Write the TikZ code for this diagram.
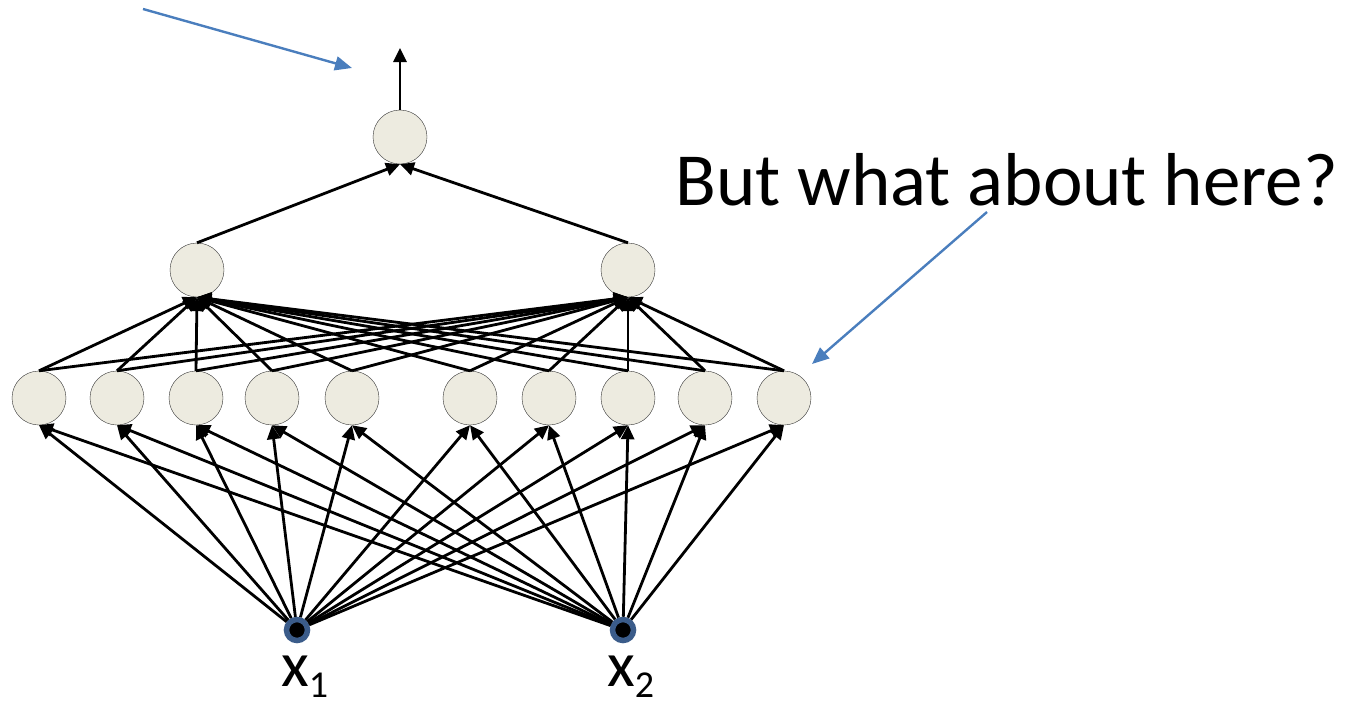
\documentclass[tikz,border=0pt]{standalone}
\usepackage{fontspec}
\setmainfont{Carlito}
\usetikzlibrary{arrows.meta}
\definecolor{cellfill}{RGB}{237,235,224}
\definecolor{ringblue}{RGB}{59,92,138}
\definecolor{noteblue}{RGB}{74,126,189}
\tikzset{
  unit/.style={circle,draw=black!80,thin,fill=cellfill,minimum size=54pt,inner sep=0pt},
  inputdot/.style={circle,fill=black,draw=ringblue,line width=5.5pt,minimum size=21pt,inner sep=0pt},
  wire/.style={line width=2.8pt,-{Triangle[length=14pt,width=13pt]}},
  note/.style={noteblue,line width=2.4pt,-{Triangle[length=17pt,width=14pt]}},
}
\newcommand{\xsub}[1]{x\raisebox{-11pt}{\fontsize{38}{38}\selectfont #1}}

\begin{document}
\begin{tikzpicture}[x=1pt,y=-1pt]
\useasboundingbox (0,0) rectangle (1355,704);
% units
\node[unit] (o) at (400,137) {};
\node[unit] (m1) at (197,270) {};
\node[unit] (m2) at (628,270) {};
\foreach \x [count=\i] in {39,117,196,272,352,470,549,628,705,784}
  \node[unit] (l\i) at (\x,398) {};
\node[inputdot] (xa) at (297,630) {};
\node[inputdot] (xb) at (623,630) {};
% wires
\foreach \i in {1,...,10} {
  \draw[wire] (xa) -- (l\i.south);
  \draw[wire] (xb) -- (l\i.south);
  \draw[wire] (l\i.north) -- (m1.south);
  \draw[wire] (l\i.north) -- (m2.south);
}
\draw[wire] (m1.north) -- (o.south);
\draw[wire] (m2.north) -- (o.south);
\coordinate (out) at (400,48);
\draw[wire] (o) -- (out);
% labels
\node[anchor=base west,font=\fontsize{64}{64}\selectfont,inner sep=0pt] (la) at (281,686) {\xsub{1}};
\node[anchor=base west,font=\fontsize{64}{64}\selectfont,inner sep=0pt] (lb) at (607,686) {\xsub{2}};
\node[anchor=base west,font=\fontsize{75}{75}\selectfont,inner sep=0pt] (q) at (675,205) {But what about here?};
% notes
\coordinate (n1a) at (143,9);
\coordinate (n1b) at (352,68);
\draw[note] (n1a) -- (n1b);
\coordinate (n2a) at (987,212);
\coordinate (n2b) at (812,364);
\draw[note] (n2a) -- (n2b);
\end{tikzpicture}
\end{document}
